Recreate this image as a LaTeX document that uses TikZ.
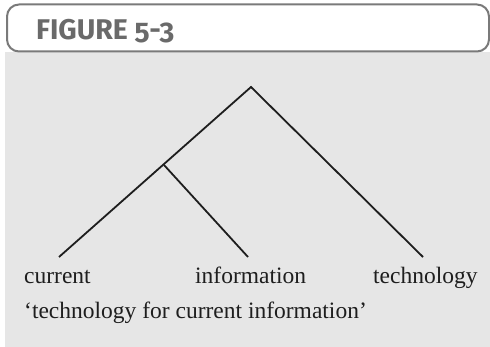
\documentclass[tikz,border=0pt]{standalone}
\usepackage{fontspec}
\setmainfont{Liberation Serif}
\newfontfamily\headfont[Numbers=OldStyle]{Fira Sans}
\definecolor{panelgray}{HTML}{E6E6E6}
\definecolor{framegray}{HTML}{7A7A7A}
\definecolor{headgray}{HTML}{6A6A6A}
\definecolor{ink}{HTML}{1E1E1E}
\begin{document}
\begin{tikzpicture}[x=1pt,y=-1pt,
  branch/.style={draw=ink,line width=1.8pt},
  word/.style={inner sep=0pt,anchor=base west,text=ink,font=\fontsize{23.5}{28}\selectfont}]
\useasboundingbox (0,0) rectangle (490,347);
% panel and caption tab
\fill[panelgray] (5,52) rectangle (490,347);
\draw[framegray,line width=2pt,fill=white,rounded corners=12pt] (7,4.5) rectangle (489,51.5);
\node[anchor=base west,inner sep=0pt,text=headgray,font=\headfont\bfseries\fontsize{28.5}{31}\selectfont] (title) at (36,39.5) {FIGURE 5-3};
% tree nodes
\coordinate (root) at (251,87);
\coordinate (mid) at (164,165);
\coordinate (lcur) at (59,257);
\coordinate (linf) at (248,257);
\coordinate (ltec) at (423,257);
\draw[branch] (lcur) -- (root) -- (ltec);
\draw[branch] (mid) -- (linf);
% leaves and gloss
\node[word] (current) at (24,284) {current};
\node[word] (information) at (195,284) {information};
\node[word] (technology) at (373,284) {technology};
\node[word] (gloss) at (24,319) {`technology for current information'};
\end{tikzpicture}
\end{document}
